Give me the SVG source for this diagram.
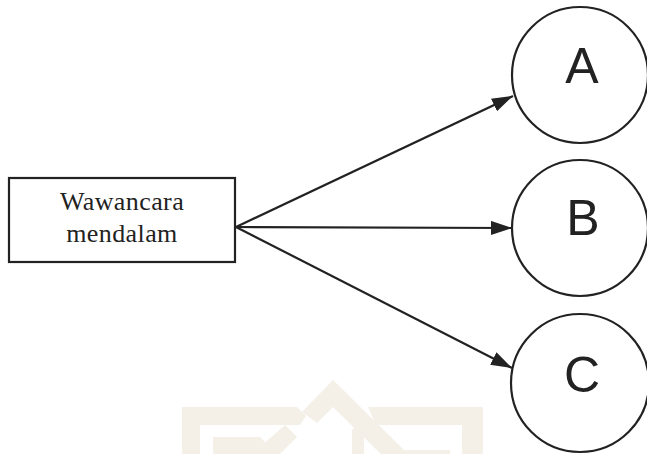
<svg xmlns="http://www.w3.org/2000/svg" width="647" height="454" viewBox="0 0 647 454">
<style>
.box{fill:#fff;stroke:#222;stroke-width:2.2}
.circ{fill:#fff;stroke:#222;stroke-width:2.2}
.lbl{font-family:"Liberation Sans",Arial,sans-serif;font-size:50px;fill:#222;text-anchor:middle}
.txt{font-family:"Liberation Serif","Times New Roman",serif;font-size:26px;letter-spacing:0.4px;fill:#222;text-anchor:middle}
.edge{stroke:#222;stroke-width:2.2;fill:none;marker-end:url(#arr)}
.wm{fill:#f4f0e8}
</style>
<defs>
<marker id="arr" markerUnits="userSpaceOnUse" markerWidth="24" markerHeight="16" refX="21" refY="7" orient="auto">
<path d="M0,0 L21,7 L0,14 z" fill="#222"/>
</marker>
</defs>
<rect width="647" height="454" fill="#fff"/>
<g id="watermark">
<path class="wm" d="M182,454 V407 H297 L306,416 L300,425 H200 V454 Z"/>
<path class="wm" d="M213,454 V437 H260 L270,447 L263,454 Z"/>
<path class="wm" d="M252,454 L285,425 L297,437 L280,454 Z"/>
<path class="wm" d="M333,380 L408,454 H381 L333,407 L317,423 L302,412 Z"/>
<path class="wm" d="M352,454 V430 L356,426 L364,434 V454 Z"/>
<path class="wm" d="M483,454 V407 H368 L376,425 H462 V454 Z"/>
<path class="wm" d="M450,454 V450 H390 L394,454 Z"/>
</g>
<g id="connectors">
<line class="edge" x1="236" y1="227" x2="513" y2="96"/>
<line class="edge" x1="236" y1="227" x2="512" y2="228"/>
<line class="edge" x1="236" y1="227" x2="512" y2="368"/>
</g>
<g id="wawancara">
<rect class="box" x="9" y="178" width="226" height="84"/>
<text class="txt" x="122" y="210">Wawancara</text>
<text class="txt" x="122" y="242">mendalam</text>
</g>
<g id="nodeA">
<circle class="circ" cx="580" cy="75" r="68"/>
<text class="lbl" x="582" y="83">A</text>
</g>
<g id="nodeB">
<circle class="circ" cx="580" cy="228" r="68"/>
<text class="lbl" x="583" y="235">B</text>
</g>
<g id="nodeC">
<circle class="circ" cx="580" cy="383" r="69"/>
<text class="lbl" x="582" y="392">C</text>
</g>
</svg>
